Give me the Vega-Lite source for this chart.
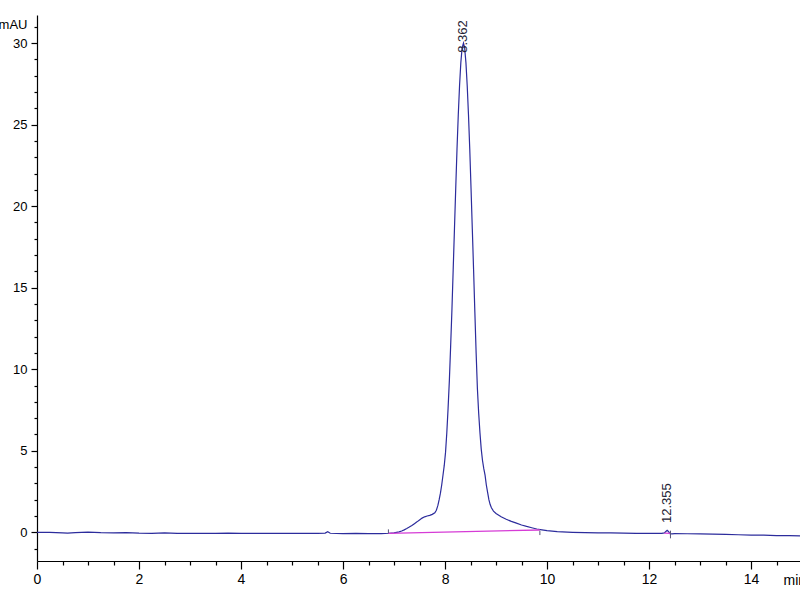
{
  "$schema": "https://vega.github.io/schema/vega-lite/v6.json",
  "autosize": "none",
  "width": 763,
  "height": 546,
  "padding": {"left": 37, "top": 15, "right": 0, "bottom": 39},
  "background": "white",
  "config": {
    "view": {"stroke": null},
    "font": "Liberation Sans Narrow, Liberation Sans, Arial, sans-serif"
  },
  "datasets": {
    "signal": [
      {"t": 0, "mAU": 0.0}, {"t": 0.25, "mAU": 0.0}, {"t": 0.5, "mAU": -0.03}, {"t": 0.6, "mAU": -0.05},
      {"t": 0.75, "mAU": -0.02}, {"t": 1.0, "mAU": 0.01}, {"t": 1.25, "mAU": -0.02}, {"t": 1.5, "mAU": -0.03},
      {"t": 1.75, "mAU": -0.02}, {"t": 2.0, "mAU": -0.05}, {"t": 2.25, "mAU": -0.06}, {"t": 2.5, "mAU": -0.04},
      {"t": 2.75, "mAU": -0.06}, {"t": 3.0, "mAU": -0.07}, {"t": 3.25, "mAU": -0.06}, {"t": 3.5, "mAU": -0.07},
      {"t": 3.75, "mAU": -0.05}, {"t": 4.0, "mAU": -0.06}, {"t": 4.25, "mAU": -0.07}, {"t": 4.5, "mAU": -0.06},
      {"t": 4.75, "mAU": -0.07}, {"t": 5.0, "mAU": -0.06}, {"t": 5.25, "mAU": -0.07}, {"t": 5.5, "mAU": -0.06},
      {"t": 5.65, "mAU": -0.05}, {"t": 5.7, "mAU": 0.04}, {"t": 5.75, "mAU": -0.06}, {"t": 6.0, "mAU": -0.08},
      {"t": 6.25, "mAU": -0.07}, {"t": 6.5, "mAU": -0.08}, {"t": 6.75, "mAU": -0.08}, {"t": 6.9, "mAU": -0.06},
      {"t": 7.0, "mAU": -0.03}, {"t": 7.1, "mAU": 0.03}, {"t": 7.15, "mAU": 0.08}, {"t": 7.2, "mAU": 0.15},
      {"t": 7.25, "mAU": 0.23}, {"t": 7.3, "mAU": 0.32}, {"t": 7.35, "mAU": 0.42}, {"t": 7.4, "mAU": 0.53},
      {"t": 7.45, "mAU": 0.64}, {"t": 7.5, "mAU": 0.76}, {"t": 7.55, "mAU": 0.87}, {"t": 7.6, "mAU": 0.95},
      {"t": 7.65, "mAU": 1.0}, {"t": 7.7, "mAU": 1.04}, {"t": 7.75, "mAU": 1.1}, {"t": 7.8, "mAU": 1.2},
      {"t": 7.83, "mAU": 1.35}, {"t": 7.86, "mAU": 1.65}, {"t": 7.885, "mAU": 2.0}, {"t": 7.91, "mAU": 2.4},
      {"t": 7.935, "mAU": 2.9}, {"t": 7.96, "mAU": 3.5}, {"t": 7.985, "mAU": 4.1}, {"t": 8.01, "mAU": 4.9},
      {"t": 8.035, "mAU": 6.1}, {"t": 8.06, "mAU": 7.6}, {"t": 8.085, "mAU": 9.3}, {"t": 8.11, "mAU": 11.4},
      {"t": 8.135, "mAU": 13.6}, {"t": 8.16, "mAU": 16.1}, {"t": 8.185, "mAU": 18.6}, {"t": 8.21, "mAU": 21.1},
      {"t": 8.235, "mAU": 23.5}, {"t": 8.26, "mAU": 25.6}, {"t": 8.285, "mAU": 27.4}, {"t": 8.31, "mAU": 28.8},
      {"t": 8.335, "mAU": 29.7}, {"t": 8.362, "mAU": 30.0}, {"t": 8.385, "mAU": 29.7}, {"t": 8.41, "mAU": 28.8},
      {"t": 8.435, "mAU": 27.4}, {"t": 8.46, "mAU": 25.6}, {"t": 8.485, "mAU": 23.5}, {"t": 8.51, "mAU": 21.1},
      {"t": 8.535, "mAU": 18.6}, {"t": 8.56, "mAU": 16.1}, {"t": 8.585, "mAU": 13.5}, {"t": 8.61, "mAU": 11.0},
      {"t": 8.635, "mAU": 8.8}, {"t": 8.66, "mAU": 7.3}, {"t": 8.685, "mAU": 6.1}, {"t": 8.71, "mAU": 5.1},
      {"t": 8.735, "mAU": 4.4}, {"t": 8.76, "mAU": 3.9}, {"t": 8.785, "mAU": 3.5}, {"t": 8.81, "mAU": 2.9},
      {"t": 8.835, "mAU": 2.45}, {"t": 8.86, "mAU": 2.0}, {"t": 8.885, "mAU": 1.7}, {"t": 8.91, "mAU": 1.5},
      {"t": 8.95, "mAU": 1.3}, {"t": 9.0, "mAU": 1.15}, {"t": 9.1, "mAU": 0.95}, {"t": 9.2, "mAU": 0.8},
      {"t": 9.3, "mAU": 0.67}, {"t": 9.4, "mAU": 0.56}, {"t": 9.5, "mAU": 0.45}, {"t": 9.6, "mAU": 0.36},
      {"t": 9.7, "mAU": 0.28}, {"t": 9.8, "mAU": 0.2}, {"t": 9.9, "mAU": 0.15}, {"t": 10.0, "mAU": 0.1},
      {"t": 10.2, "mAU": 0.04}, {"t": 10.5, "mAU": 0.0}, {"t": 10.75, "mAU": -0.02}, {"t": 11.0, "mAU": -0.04},
      {"t": 11.25, "mAU": -0.03}, {"t": 11.5, "mAU": -0.05}, {"t": 11.75, "mAU": -0.06}, {"t": 12.0, "mAU": -0.06},
      {"t": 12.25, "mAU": -0.06}, {"t": 12.3, "mAU": -0.04}, {"t": 12.33, "mAU": 0.05}, {"t": 12.355, "mAU": 0.12},
      {"t": 12.38, "mAU": 0.05}, {"t": 12.41, "mAU": -0.08}, {"t": 12.45, "mAU": -0.1}, {"t": 12.5, "mAU": -0.08},
      {"t": 12.75, "mAU": -0.09}, {"t": 13.0, "mAU": -0.1}, {"t": 13.25, "mAU": -0.11}, {"t": 13.5, "mAU": -0.13},
      {"t": 13.75, "mAU": -0.15}, {"t": 14.0, "mAU": -0.17}, {"t": 14.25, "mAU": -0.17}, {"t": 14.5, "mAU": -0.2},
      {"t": 14.75, "mAU": -0.2}, {"t": 14.96, "mAU": -0.22}
    ],
    "baseline": [
      {"t": 6.89, "mAU": -0.06, "seg": "a"}, {"t": 9.86, "mAU": 0.14, "seg": "a"},
      {"t": 12.3, "mAU": -0.05, "seg": "b"}, {"t": 12.42, "mAU": -0.07, "seg": "b"}
    ],
    "marks": [
      {"t": 6.89, "y1": -0.06, "y2": 0.18},
      {"t": 9.86, "y1": 0.1, "y2": -0.17},
      {"t": 12.42, "y1": 0.1, "y2": -0.37}
    ],
    "labels": [
      {"t": 8.35, "mAU": 29.4, "label": "8.362"},
      {"t": 12.35, "mAU": 0.57, "label": "12.355"}
    ]
  },
  "layer": [
    {
      "data": {"name": "signal"},
      "mark": {"type": "line", "color": "#2c2c9c", "strokeWidth": 1.2, "clip": true},
      "encoding": {
        "x": {
          "field": "t", "type": "quantitative",
          "scale": {"domain": [0, 14.96], "nice": false, "zero": false},
          "axis": {
            "values": [0, 0.5, 1, 1.5, 2, 2.5, 3, 3.5, 4, 4.5, 5, 5.5, 6, 6.5, 7, 7.5, 8, 8.5, 9, 9.5, 10, 10.5, 11, 11.5, 12, 12.5, 13, 13.5, 14, 14.5],
            "tickCount": 200,
            "labelExpr": "datum.value % 2 === 0 ? format(datum.value, 'd') : ''",
            "tickSize": {"condition": {"test": "datum.value % 2 === 0", "value": 8}, "value": 4},
            "labelOverlap": false,
            "labelFlush": false,
            "grid": false,
            "domainColor": "#000", "domainWidth": 1.2,
            "tickColor": "#000", "tickWidth": 1.2,
            "labelColor": "#000", "labelFontSize": 14, "labelPadding": 3,
            "labelFont": "Liberation Sans Narrow, Liberation Sans, Arial, sans-serif",
            "title": "min", "titleAngle": 0, "titleX": 746, "titleY": 12,
            "titleAlign": "left", "titleBaseline": "top", "titleFontWeight": "normal",
            "titleFontSize": 14, "titleColor": "#000",
            "titleFont": "Liberation Sans Narrow, Liberation Sans, Arial, sans-serif"
          }
        },
        "y": {
          "field": "mAU", "type": "quantitative",
          "scale": {"domain": [-1.76, 31.72], "nice": false, "zero": false},
          "axis": {
            "values": [-1, 0, 1, 2, 3, 4, 5, 6, 7, 8, 9, 10, 11, 12, 13, 14, 15, 16, 17, 18, 19, 20, 21, 22, 23, 24, 25, 26, 27, 28, 29, 30, 31],
            "tickCount": 200,
            "labelExpr": "datum.value % 5 === 0 ? format(datum.value, 'd') : ''",
            "tickSize": {"condition": {"test": "datum.value % 5 === 0", "value": 6}, "value": 3},
            "labelOverlap": false,
            "labelFlush": false,
            "grid": false,
            "domainColor": "#000", "domainWidth": 1.2,
            "tickColor": "#000", "tickWidth": 1.2,
            "labelColor": "#000", "labelFontSize": 13, "labelPadding": 4,
            "labelFont": "Liberation Sans Narrow, Liberation Sans, Arial, sans-serif",
            "title": "mAU", "titleAngle": 0, "titleX": -10, "titleY": 9,
            "titleAlign": "right", "titleBaseline": "middle", "titleFontWeight": "normal",
            "titleFontSize": 13, "titleColor": "#000",
            "titleFont": "Liberation Sans Narrow, Liberation Sans, Arial, sans-serif"
          }
        }
      }
    },
    {
      "data": {"name": "baseline"},
      "mark": {"type": "line", "color": "#d63cd6", "strokeWidth": 1.3},
      "encoding": {
        "x": {"field": "t", "type": "quantitative"},
        "y": {"field": "mAU", "type": "quantitative"},
        "detail": {"field": "seg"}
      }
    },
    {
      "data": {"name": "marks"},
      "mark": {"type": "rule", "color": "#555577", "strokeWidth": 1},
      "encoding": {
        "x": {"field": "t", "type": "quantitative"},
        "y": {"field": "y1", "type": "quantitative"},
        "y2": {"field": "y2"}
      }
    },
    {
      "data": {"name": "labels"},
      "mark": {"type": "text", "angle": -90, "align": "left", "baseline": "middle", "fontSize": 13, "color": "#222233",
               "font": "Liberation Sans Narrow, Liberation Sans, Arial, sans-serif"},
      "encoding": {
        "x": {"field": "t", "type": "quantitative"},
        "y": {"field": "mAU", "type": "quantitative"},
        "text": {"field": "label"}
      }
    }
  ]
}
